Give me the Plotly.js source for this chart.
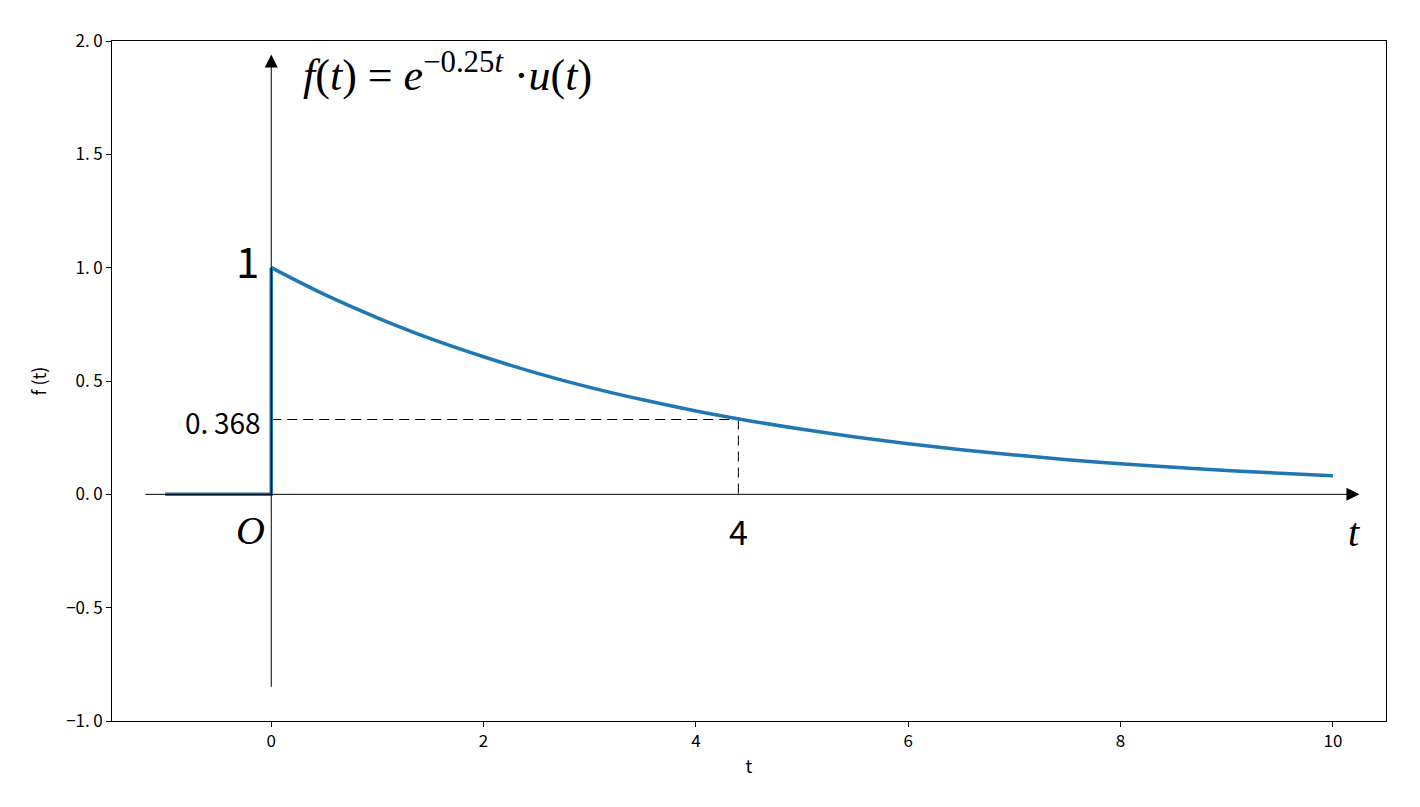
<!DOCTYPE html>
<html>
<head>
<meta charset="utf-8">
<script src="https://cdn.plot.ly/plotly-3.0.1.min.js"></script>
<style>html,body{margin:0;padding:0;background:#fff;}#chart{width:1420px;height:807px;}</style>
</head>
<body>
<div id="chart"></div>
<script>
// Step part of the signal
const stepT = [-1, 0, 0];
const stepF = [0, 0, 1];
// Decaying part f(t)
const decayT = [0, 0.5, 1, 1.5, 2, 2.5, 3, 3.5, 4, 4.5, 5, 5.5, 6, 6.5, 7, 7.5, 8, 8.5, 9, 9.5, 10];
const decayF = [1.000, 0.882, 0.779, 0.687, 0.607, 0.535, 0.472, 0.417, 0.368, 0.325, 0.287, 0.253, 0.223, 0.197, 0.174, 0.153, 0.135, 0.119, 0.105, 0.093, 0.082];
// Marked point (dashed guides)
const markT = [0, 4.4, 4.4];
const markF = [0.33, 0.33, 0];
// Axis tick labels
const yTickVals = [-1, -0.5, 0, 0.5, 1, 1.5, 2];
const yTickText = ['\u22121.\u20090', '\u22120.\u20095', '0.\u20090', '0.\u20095', '1.\u20090', '1.\u20095', '2.\u20090'];
const xTickVals = [0, 2, 4, 6, 8, 10];
const xTickText = ['0', '2', '4', '6', '8', '10'];
// Axis arrows (tail, tip)
const hAxisT = [-1.2, 10.25];
const vAxisF = [-0.856, 1.94];

const blue = '#1f77b4';
const cjk = '"Noto Sans CJK SC", "DejaVu Sans", sans-serif';
const serif = '"Liberation Serif", "DejaVu Serif", serif';

const traces = [
  {x: [markT[0], markT[1]], y: [markF[0], markF[1]], mode: 'lines', line: {color: '#000', width: 1, dash: '10px,6px'}, hoverinfo: 'skip'},
  {x: [markT[1], markT[2]], y: [markF[1], markF[2]], mode: 'lines', line: {color: '#000', width: 1, dash: '10px,6px'}, hoverinfo: 'skip'},
  {x: stepT, y: stepF, mode: 'lines', line: {color: blue, width: 3.5}},
  {x: decayT, y: decayF, mode: 'lines', line: {color: blue, width: 3.5, shape: 'spline'}}
];

const annotations = [
  // horizontal axis arrow
  {x: hAxisT[1], y: 0, ax: hAxisT[0], ay: 0, xref: 'x', yref: 'y', axref: 'x', ayref: 'y', showarrow: true, arrowhead: 2, arrowsize: 2.6, arrowwidth: 1, arrowcolor: '#000', text: ''},
  // vertical axis arrow
  {x: 0, y: vAxisF[1], ax: 0, ay: vAxisF[0], xref: 'x', yref: 'y', axref: 'x', ayref: 'y', showarrow: true, arrowhead: 2, arrowsize: 2.6, arrowwidth: 1, arrowcolor: '#000', text: ''},
  {x: 0, y: 1, xref: 'x', yref: 'y', xanchor: 'right', yanchor: 'middle', xshift: -10, yshift: 8, showarrow: false, text: '1', font: {family: cjk, size: 42, color: '#000'}},
  {x: 0, y: markF[0], xref: 'x', yref: 'y', xanchor: 'right', yanchor: 'middle', xshift: -8, yshift: -2, showarrow: false, text: '0.\u2009368', font: {family: cjk, size: 28, color: '#000'}},
  {x: 0, y: 0, xref: 'x', yref: 'y', xanchor: 'right', yanchor: 'top', xshift: -4, yshift: -12, showarrow: false, text: '<i>O</i>', font: {family: serif, size: 40, color: '#000'}},
  {x: markT[1], y: 0, xref: 'x', yref: 'y', xanchor: 'center', yanchor: 'top', yshift: -10, showarrow: false, text: '4', font: {family: cjk, size: 34, color: '#000'}},
  {x: 10.2, y: 0, xref: 'x', yref: 'y', xanchor: 'center', yanchor: 'top', yshift: -14, showarrow: false, text: '<i>t</i>', font: {family: serif, size: 40, color: '#000'}},
  {x: 0.28, y: 1.86, xref: 'x', yref: 'y', xanchor: 'left', yanchor: 'middle', showarrow: false,
   text: '<i>f</i>(<i>t</i>) = <i>e</i><sup>\u22120.25<i>t</i></sup> \u00b7<i>u</i>(<i>t</i>)', font: {family: serif, size: 44, color: '#000'}}
];

const layout = {
  width: 1420, height: 807,
  margin: {l: 112, r: 34, t: 41, b: 86},
  paper_bgcolor: '#fff', plot_bgcolor: '#fff',
  showlegend: false,
  font: {family: cjk, size: 17, color: '#000'},
  xaxis: {
    range: [-1.5, 10.5], showgrid: false, zeroline: false,
    showline: true, mirror: true, linecolor: '#000', linewidth: 1,
    ticks: 'outside', ticklen: 5, tickcolor: '#000',
    tickvals: xTickVals, ticktext: xTickText,
    tickfont: {family: cjk, size: 17},
    title: {text: 't', font: {family: cjk, size: 18}, standoff: 8}
  },
  yaxis: {
    range: [-1, 2], showgrid: false, zeroline: false,
    showline: true, mirror: true, linecolor: '#000', linewidth: 1,
    ticks: 'outside', ticklen: 5, tickcolor: '#000',
    tickvals: yTickVals, ticktext: yTickText,
    tickfont: {family: cjk, size: 17},
    title: {text: 'f (t)', font: {family: cjk, size: 18}, standoff: 14}
  },
  annotations: annotations
};

Plotly.newPlot('chart', traces, layout, {displayModeBar: false, staticPlot: true});
</script>
</body>
</html>
